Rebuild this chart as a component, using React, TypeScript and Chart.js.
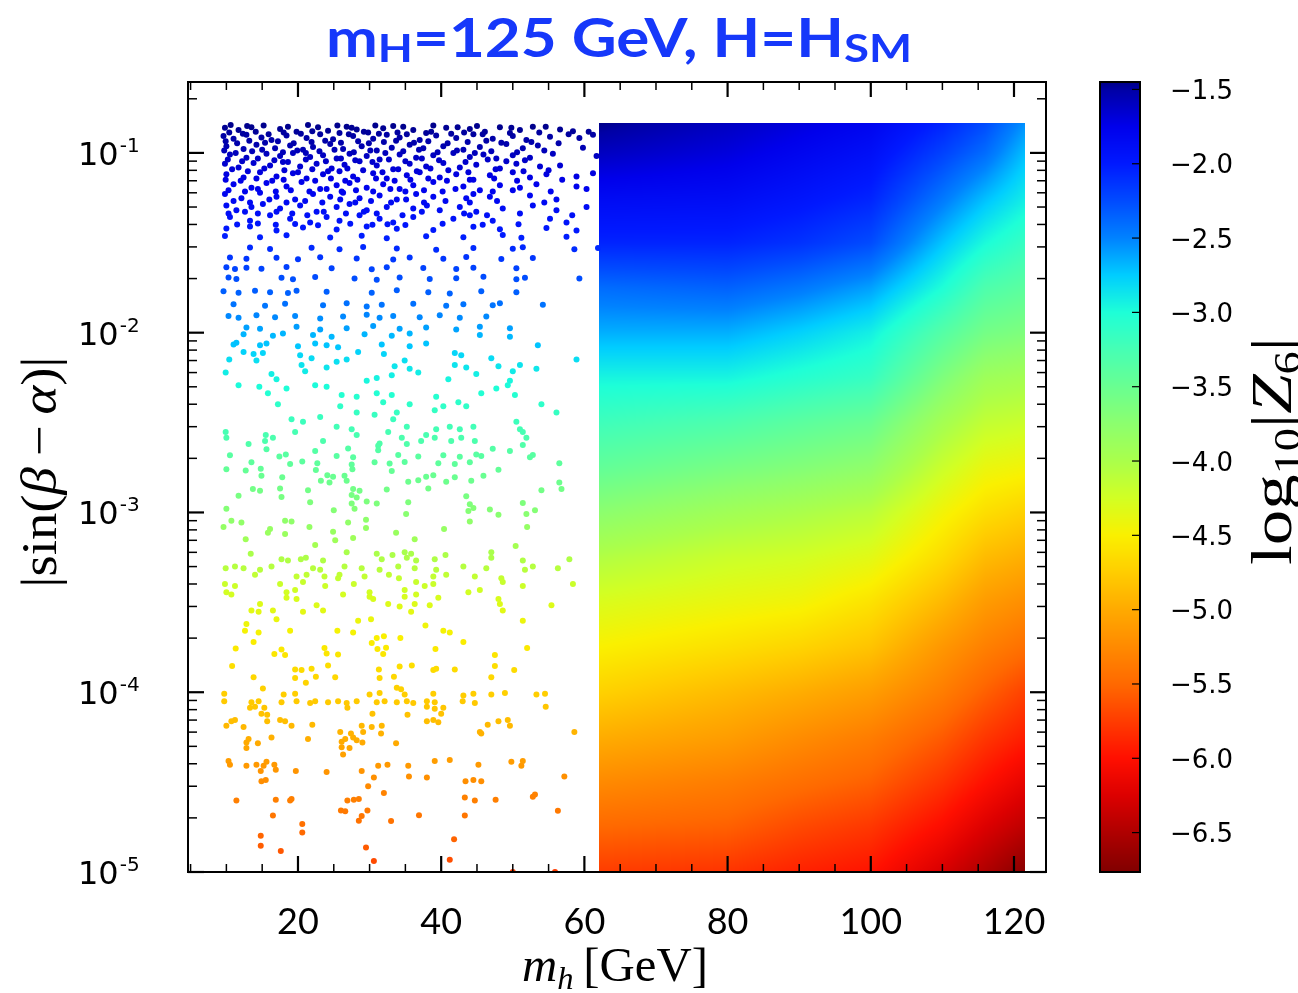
import { useEffect, useRef } from "react";
import { Chart, registerables } from "chart.js";

Chart.register(...registerables);

// ---------- axes ----------
const X_RANGE = [4.64, 124.47];
const Y_RANGE = [1e-5, 0.248];
const Z_RANGE = [-6.765, -1.45];

const X_MAJOR_TICKS = [20, 40, 60, 80, 100, 120];
const X_MINOR_TICKS = [5, 10, 15, 25, 30, 35, 45, 50, 55, 65, 70, 75, 85, 90, 95, 105, 110, 115];
const Y_DECADES = [1e-1, 1e-2, 1e-3, 1e-4, 1e-5];
const Y_DECADE_EXPONENTS = ["-1", "-2", "-3", "-4", "-5"];
const Z_TICKS = [-1.5, -2.0, -2.5, -3.0, -3.5, -4.0, -4.5, -5.0, -5.5, -6.0, -6.5];
const Z_TICK_LABELS = ["\u22121.5", "\u22122.0", "\u22122.5", "\u22123.0", "\u22123.5", "\u22124.0", "\u22124.5", "\u22125.0", "\u22125.5", "\u22126.0", "\u22126.5"];

// ---------- dense scan region (mh > 62 GeV): log10|Z6| read on a grid ----------
const FIELD_MH = [62.1, 80, 90, 100, 110, 116, 121.5];
const FIELD_SIN = [0.146, 0.1, 0.0562, 0.0316, 0.0178, 0.01, 0.00562, 0.00316, 0.00178, 0.001, 5.62e-4, 3.16e-4, 1.78e-4, 1e-4, 5.62e-5, 3.16e-5, 1.78e-5, 1e-5];
const FIELD_LOGZ6_MH62 = [-1.45, -1.6, -1.85, -2.05, -2.4, -2.65, -2.95, -3.2, -3.45, -3.75, -4.05, -4.3, -4.5, -4.72, -4.98, -5.25, -5.5, -5.75];
const FIELD_LOGZ6_MH80 = [-1.6, -1.7, -1.87, -2.05, -2.35, -2.65, -2.95, -3.3, -3.6, -3.92, -4.2, -4.4, -4.62, -4.88, -5.1, -5.35, -5.55, -5.8];
const FIELD_LOGZ6_MH90 = [-1.7, -1.8, -1.95, -2.12, -2.45, -2.77, -3.05, -3.4, -3.68, -4.0, -4.25, -4.45, -4.7, -4.98, -5.23, -5.45, -5.68, -5.9];
const FIELD_LOGZ6_MH100 = [-1.8, -1.9, -2.05, -2.25, -2.6, -2.92, -3.15, -3.5, -3.78, -4.1, -4.35, -4.6, -4.82, -5.1, -5.35, -5.55, -5.78, -5.98];
const FIELD_LOGZ6_MH110 = [-2.05, -2.2, -2.45, -2.72, -3.0, -3.35, -3.65, -3.95, -4.2, -4.45, -4.65, -4.9, -5.15, -5.35, -5.58, -5.8, -6.03, -6.28];
const FIELD_LOGZ6_MH116 = [-2.25, -2.4, -2.7, -2.98, -3.3, -3.58, -3.9, -4.15, -4.4, -4.63, -4.88, -5.12, -5.33, -5.55, -5.78, -6.0, -6.25, -6.5];
const FIELD_LOGZ6_MH121 = [-2.55, -2.7, -2.9, -3.15, -3.4, -3.65, -3.95, -4.2, -4.45, -4.72, -4.97, -5.22, -5.45, -5.72, -5.92, -6.17, -6.42, -6.72];
const FIELD_LOGZ6 = [FIELD_LOGZ6_MH62, FIELD_LOGZ6_MH80, FIELD_LOGZ6_MH90, FIELD_LOGZ6_MH100, FIELD_LOGZ6_MH110, FIELD_LOGZ6_MH116, FIELD_LOGZ6_MH121];

// ---------- scattered points (mh < 62 GeV): [mh, |sin(b-a)|, log10|Z6|] ----------
const POINTS_TOP_BAND = [
  [9.8,.138,-1.47],[11.7,.134,-1.47],[13.5,.139,-1.46],[17.5,.136,-1.47],[19.8,.131,-1.48],[22.8,.139,-1.46],[24.2,.133,-1.47],[26.8,.14,-1.46],[28.2,.135,-1.47],[29.8,.13,-1.48],[31.9,.137,-1.47],[33.3,.141,-1.46],[36.1,.134,-1.47],[37.9,.129,-1.48],[40.7,.138,-1.47],[44.0,.136,-1.47],[46.1,.131,-1.48],[48.2,.139,-1.46],[51.0,.134,-1.47],[52.8,.14,-1.46],[56.6,.135,-1.47],[58.4,.132,-1.48],
  [9.6,.124,-1.5],[11.0,.12,-1.51],[12.8,.126,-1.5],[14.9,.122,-1.5],[16.3,.118,-1.52],[18.4,.125,-1.5],[21.2,.121,-1.51],[23.1,.127,-1.49],[24.9,.119,-1.51],[27.7,.124,-1.5],[30.5,.12,-1.51],[32.4,.126,-1.5],[34.2,.122,-1.5],[37.0,.118,-1.52],[39.3,.125,-1.5],[42.1,.121,-1.51],[44.5,.127,-1.49],[47.2,.12,-1.51],[50.0,.124,-1.5],[51.9,.118,-1.52],[55.2,.123,-1.5],[59.3,.121,-1.51],[61.2,.126,-1.5],
  [10.0,.109,-1.54],[12.4,.105,-1.55],[14.2,.111,-1.53],[16.8,.106,-1.55],[18.9,.11,-1.54],[20.7,.104,-1.56],[22.1,.108,-1.54],[24.5,.112,-1.53],[26.3,.105,-1.55],[28.9,.109,-1.54],[31.0,.103,-1.56],[33.1,.107,-1.55],[35.6,.111,-1.53],[37.5,.106,-1.55],[40.3,.109,-1.54],[43.1,.104,-1.56],[45.4,.108,-1.54],[49.1,.112,-1.53],[51.4,.106,-1.55],[53.5,.11,-1.54],[59.8,.107,-1.55],
  [10.5,.098,-1.6],[12.8,.094,-1.61],[15.6,.099,-1.59],[17.5,.096,-1.6],[19.3,.1,-1.59],[21.7,.095,-1.61],[23.5,.097,-1.6],[25.4,.093,-1.62],[27.2,.099,-1.6],[29.6,.096,-1.6],[31.4,.092,-1.62],[34.2,.098,-1.6],[36.5,.094,-1.61],[38.9,.097,-1.6],[41.7,.1,-1.59],[44.0,.095,-1.61],[45.9,.098,-1.6],[47.7,.093,-1.62],[50.0,.097,-1.6],[52.4,.094,-1.61],[55.6,.099,-1.6],[61.7,.096,-1.6],
  [9.8,.087,-1.65],[11.7,.083,-1.67],[13.8,.088,-1.65],[16.1,.085,-1.66],[17.9,.089,-1.64],[20.3,.084,-1.66],[22.6,.087,-1.65],[24.7,.082,-1.67],[26.5,.086,-1.66],[28.6,.09,-1.64],[31.0,.085,-1.66],[33.3,.081,-1.68],[35.6,.087,-1.65],[37.9,.084,-1.66],[40.3,.088,-1.65],[42.6,.083,-1.67],[44.9,.086,-1.66],[48.2,.082,-1.67],[50.5,.087,-1.65],[53.8,.084,-1.66],[56.6,.085,-1.66],
  [10.0,.076,-1.71],[12.4,.073,-1.72],[14.7,.078,-1.7],[17.0,.074,-1.72],[19.3,.077,-1.71],[21.2,.072,-1.73],[23.5,.076,-1.71],[25.8,.079,-1.7],[27.7,.074,-1.72],[30.5,.077,-1.71],[32.4,.072,-1.73],[35.2,.075,-1.72],[37.0,.078,-1.7],[39.8,.073,-1.72],[42.1,.076,-1.71],[44.5,.071,-1.73],[46.8,.075,-1.72],[50.0,.078,-1.7],[52.4,.073,-1.72],[54.7,.076,-1.71],[58.9,.074,-1.72],[61.2,.077,-1.71],
  [11.0,.067,-1.76],[13.5,.064,-1.78],[15.6,.068,-1.76],[18.4,.065,-1.77],[20.5,.069,-1.75],[23.1,.063,-1.78],[25.4,.066,-1.77],[27.2,.068,-1.76],[29.6,.064,-1.78],[31.9,.067,-1.76],[34.2,.063,-1.78],[36.1,.066,-1.77],[38.9,.069,-1.75],[43.1,.065,-1.77],[45.4,.062,-1.79],[48.2,.066,-1.77],[51.0,.064,-1.78],[53.3,.067,-1.76],[58.9,.065,-1.77],[60.3,.063,-1.78],
  [9.8,.059,-1.8],[12.1,.056,-1.82],[14.7,.06,-1.8],[17.0,.057,-1.81],[19.6,.055,-1.83],[22.1,.059,-1.8],[24.5,.057,-1.81],[26.3,.06,-1.8],[28.6,.056,-1.82],[31.4,.058,-1.81],[33.8,.055,-1.83],[36.5,.059,-1.8],[38.9,.057,-1.81],[43.5,.056,-1.82],[44.5,.059,-1.8],[46.8,.057,-1.81],[52.4,.058,-1.81],[56.1,.055,-1.83],
  [10.0,.051,-1.86],[11.4,.048,-1.88],[13.5,.05,-1.87],[15.1,.052,-1.85],[17.5,.049,-1.87],[20.3,.051,-1.86],[22.6,.047,-1.89],[25.4,.05,-1.87],[27.2,.052,-1.85],[29.6,.048,-1.88],[32.4,.05,-1.87],[36.1,.049,-1.87],[38.0,.051,-1.86],[39.8,.048,-1.88],[42.6,.05,-1.87],[44.9,.047,-1.89],[48.6,.049,-1.87],[52.8,.051,-1.86],[56.1,.048,-1.88],[60.3,.05,-1.87],
  [10.5,.044,-1.92],[13.3,.042,-1.93],[16.1,.045,-1.91],[18.9,.043,-1.92],[21.7,.041,-1.94],[24.0,.044,-1.92],[25.8,.042,-1.93],[28.6,.045,-1.91],[31.4,.043,-1.92],[33.3,.041,-1.94],[36.1,.044,-1.92],[41.7,.043,-1.92],[44.0,.045,-1.91],[47.2,.042,-1.93],[55.2,.043,-1.92],[57.5,.041,-1.94],
];

const POINTS_TOP_BAND_FILL = [
  [10.6,.143,-1.46],[12.9,.141,-1.46],[15.2,.142,-1.46],[18.6,.14,-1.46],[21.4,.143,-1.46],[25.5,.142,-1.46],[27.5,.138,-1.47],[30.8,.142,-1.46],[34.7,.14,-1.46],[38.9,.142,-1.46],[42.3,.139,-1.47],[45.0,.141,-1.46],[49.8,.138,-1.47],[54.6,.14,-1.46],
  [10.4,.13,-1.49],[12.3,.128,-1.49],[14.1,.131,-1.48],[15.9,.127,-1.49],[18.0,.13,-1.49],[20.4,.128,-1.49],[22.0,.132,-1.48],[25.8,.129,-1.49],[27.1,.127,-1.49],[29.2,.131,-1.48],[31.3,.128,-1.49],[33.9,.13,-1.49],[35.2,.127,-1.49],[38.6,.131,-1.48],[41.4,.128,-1.49],[43.2,.13,-1.49],[45.8,.127,-1.49],[49.6,.129,-1.49],[53.7,.13,-1.49],[57.8,.127,-1.49],[60.6,.131,-1.48],
  [9.9,.116,-1.52],[11.5,.113,-1.52],[13.2,.117,-1.51],[15.4,.114,-1.52],[17.2,.116,-1.52],[19.4,.113,-1.52],[21.9,.115,-1.52],[23.8,.117,-1.51],[26.0,.114,-1.52],[28.4,.116,-1.52],[29.9,.113,-1.52],[32.0,.115,-1.52],[33.7,.117,-1.51],[36.2,.114,-1.52],[38.2,.116,-1.52],[40.9,.113,-1.52],[43.7,.115,-1.52],[46.3,.117,-1.51],[48.4,.114,-1.52],[52.6,.115,-1.52],[56.4,.113,-1.52],
  [9.7,.103,-1.57],[11.3,.1,-1.58],[13.6,.102,-1.57],[15.0,.104,-1.56],[17.9,.101,-1.57],[19.9,.103,-1.57],[21.1,.1,-1.58],[23.0,.102,-1.57],[25.1,.104,-1.56],[27.8,.101,-1.57],[30.1,.103,-1.57],[32.2,.1,-1.58],[34.7,.102,-1.57],[36.9,.104,-1.56],[39.5,.101,-1.57],[42.2,.103,-1.57],[44.7,.1,-1.58],[47.0,.102,-1.57],[50.6,.101,-1.57],[54.4,.103,-1.57],
  [10.2,.092,-1.63],[12.2,.09,-1.63],[14.4,.093,-1.62],[16.7,.091,-1.63],[18.6,.089,-1.64],[21.1,.092,-1.63],[23.9,.09,-1.63],[26.0,.093,-1.62],[28.0,.091,-1.63],[30.4,.089,-1.64],[32.7,.092,-1.63],[35.0,.09,-1.63],[37.3,.093,-1.62],[39.7,.091,-1.63],[43.4,.089,-1.64],[46.5,.092,-1.63],[49.1,.09,-1.63],[51.7,.091,-1.63],
  [10.8,.081,-1.68],[13.0,.079,-1.69],[15.3,.082,-1.68],[18.1,.08,-1.68],[20.0,.078,-1.69],[22.0,.081,-1.68],[24.2,.079,-1.69],[26.9,.082,-1.68],[29.1,.08,-1.68],[31.8,.078,-1.69],[34.0,.081,-1.68],[36.6,.079,-1.69],[38.5,.082,-1.68],[41.0,.08,-1.68],[43.8,.078,-1.69],[47.6,.081,-1.68],[51.5,.079,-1.69],[55.0,.08,-1.68],
  [9.9,.071,-1.73],[12.0,.07,-1.74],[14.2,.072,-1.73],[16.4,.07,-1.74],[18.0,.071,-1.73],[22.4,.07,-1.74],[24.6,.072,-1.73],[26.6,.07,-1.74],[28.3,.071,-1.73],[30.9,.072,-1.73],[33.5,.07,-1.74],[35.7,.071,-1.73],[38.2,.072,-1.73],[40.8,.07,-1.74],[44.0,.071,-1.73],[47.4,.072,-1.73],[50.6,.07,-1.74],[56.9,.071,-1.73],
  [10.3,.062,-1.78],[12.6,.061,-1.79],[14.4,.063,-1.78],[16.9,.061,-1.79],[19.0,.062,-1.78],[21.6,.061,-1.79],[24.0,.063,-1.78],[26.1,.061,-1.79],[28.1,.062,-1.78],[30.5,.061,-1.79],[32.9,.063,-1.78],[35.0,.061,-1.79],[37.6,.062,-1.78],[40.2,.061,-1.79],[42.0,.063,-1.78],[47.2,.061,-1.79],[50.0,.062,-1.78],[55.3,.061,-1.79],
  [11.0,.054,-1.83],[13.3,.053,-1.84],[16.0,.055,-1.83],[18.4,.053,-1.84],[21.0,.054,-1.83],[23.4,.053,-1.84],[25.9,.055,-1.83],[28.0,.053,-1.84],[30.2,.054,-1.83],[33.0,.053,-1.84],[35.1,.055,-1.83],[37.6,.053,-1.84],[40.6,.054,-1.83],[44.0,.053,-1.84],[47.8,.054,-1.83],[54.4,.053,-1.84],
  [10.3,.046,-1.89],[12.6,.047,-1.89],[14.4,.046,-1.89],[17.0,.047,-1.89],[19.2,.046,-1.89],[21.3,.045,-1.9],[23.6,.047,-1.89],[26.7,.046,-1.89],[29.2,.047,-1.89],[31.0,.046,-1.89],[34.6,.045,-1.9],[37.3,.047,-1.89],[43.2,.046,-1.89],[46.4,.045,-1.9],[51.0,.046,-1.89],[58.3,.045,-1.9],
  [11.5,.04,-1.95],[14.4,.0405,-1.95],[16.9,.0398,-1.95],[19.6,.0402,-1.95],[22.8,.0396,-1.96],[27.3,.0404,-1.95],[30.4,.0399,-1.95],[32.5,.0401,-1.95],[35.0,.0397,-1.96],[40.2,.0403,-1.95],[45.8,.0399,-1.95],[50.8,.0401,-1.95],
];

const POINTS_MID_BAND = [
  [10.0,.038,-1.98],[13.3,.039,-1.97],[17.0,.037,-1.99],[20.7,.0385,-1.98],[25.4,.0375,-1.99],[29.6,.039,-1.97],[33.8,.0378,-1.98],[38.9,.0372,-1.99],[44.5,.0388,-1.97],[48.2,.0376,-1.98],[54.7,.0382,-1.98],[58.9,.037,-1.99],
  [9.8,.0345,-2.02],[14.7,.034,-2.02],[18.4,.0348,-2.01],[24.5,.0338,-2.03],[28.9,.0346,-2.02],[32.4,.0335,-2.03],[37.9,.0344,-2.02],[43.1,.034,-2.02],[48.6,.0349,-2.01],[51.2,.0337,-2.03],[57.5,.0342,-2.02],
  [13.3,.0298,-2.08],[16.1,.0292,-2.09],[21.9,.0297,-2.08],[25.8,.0291,-2.09],[29.1,.03,-2.07],[33.8,.0294,-2.08],[39.3,.0289,-2.09],[44.5,.0296,-2.08],[50.0,.0293,-2.08],[51.4,.0299,-2.07],[58.6,.0291,-2.09],[61.9,.0296,-2.08],
  [10.5,.0262,-2.14],[12.8,.0258,-2.14],[17.0,.0261,-2.14],[20.0,.0256,-2.15],[23.1,.0263,-2.13],[28.2,.0259,-2.14],[33.3,.0255,-2.15],[35.6,.0262,-2.14],[40.3,.0258,-2.14],[43.5,.0264,-2.13],[48.4,.0257,-2.15],[52.8,.026,-2.14],
  [10.0,.0231,-2.2],[11.2,.0226,-2.21],[12.8,.023,-2.2],[14.9,.0227,-2.21],[18.4,.0232,-2.19],[24.7,.0228,-2.2],[30.3,.0225,-2.21],[32.4,.0231,-2.2],[37.5,.0229,-2.2],[42.1,.0226,-2.21],[44.5,.023,-2.2],[50.5,.0228,-2.2],
  [10.3,.0203,-2.26],[11.4,.0199,-2.27],[17.7,.0202,-2.26],[19.3,.0198,-2.27],[22.4,.0204,-2.25],[27.9,.02,-2.26],[31.0,.0197,-2.27],[34.2,.0203,-2.26],[38.4,.0199,-2.27],[42.1,.0201,-2.26],[45.9,.0205,-2.25],[50.5,.0198,-2.27],[51.7,.0202,-2.26],[59.3,.02,-2.26],
  [9.6,.017,-2.34],[11.7,.0167,-2.35],[14.0,.0171,-2.33],[16.1,.0168,-2.34],[18.6,.0166,-2.35],[19.8,.0171,-2.33],[24.0,.0169,-2.34],[30.3,.0167,-2.35],[33.8,.0172,-2.33],[38.2,.0168,-2.34],[41.2,.0165,-2.35],[45.6,.017,-2.34],[50.5,.0168,-2.34],
  [11.0,.0144,-2.43],[15.4,.0141,-2.44],[18.2,.0145,-2.42],[23.5,.0142,-2.43],[26.8,.0146,-2.42],[29.6,.014,-2.44],[31.7,.0143,-2.43],[36.1,.0145,-2.42],[40.7,.0141,-2.44],[43.1,.0144,-2.43],[47.2,.0142,-2.43],[48.2,.0146,-2.42],[54.2,.0143,-2.43],
  [10.3,.0124,-2.52],[11.7,.0121,-2.53],[14.2,.0125,-2.51],[16.8,.0122,-2.52],[19.6,.0124,-2.52],[23.1,.012,-2.54],[26.3,.0123,-2.52],[29.6,.0126,-2.51],[31.4,.0121,-2.53],[33.3,.0124,-2.52],[37.0,.0122,-2.52],[39.8,.0125,-2.51],[42.6,.0121,-2.53],[46.3,.0123,-2.52],
  [12.8,.0107,-2.6],[14.7,.0105,-2.61],[19.8,.0108,-2.59],[23.1,.0104,-2.61],[26.8,.0106,-2.6],[30.5,.0109,-2.59],[34.2,.0105,-2.61],[37.9,.0107,-2.6],[42.1,.0104,-2.61],[45.4,.0108,-2.59],[49.6,.0106,-2.6],
  [12.4,.0098,-2.67],[16.5,.0096,-2.68],[17.9,.0099,-2.67],[22.1,.0097,-2.67],[24.7,.0095,-2.68],[29.3,.0098,-2.67],[33.1,.0096,-2.68],[35.6,.0099,-2.67],[45.4,.0097,-2.67],[49.6,.0095,-2.68],
  [11.0,.0086,-2.72],[11.4,.0088,-2.71],[14.7,.0085,-2.72],[15.6,.0087,-2.72],[20.0,.0084,-2.73],[22.4,.0087,-2.72],[24.0,.0085,-2.72],[25.6,.0083,-2.73],[31.7,.0086,-2.72],[35.6,.0084,-2.73],[37.9,.0087,-2.72],[53.5,.0085,-2.72],
  [12.4,.0078,-2.78],[13.8,.0076,-2.79],[15.1,.0077,-2.79],[20.3,.0075,-2.8],[28.4,.0078,-2.78],[32.0,.0076,-2.79],[41.9,.0077,-2.79],[42.8,.0075,-2.8],
  [10.4,.0071,-2.83],[14.2,.007,-2.84],[21.9,.0072,-2.82],[25.4,.0069,-2.84],[26.8,.0071,-2.83],[34.9,.007,-2.84],[47.0,.0072,-2.82],[58.9,.0071,-2.83],
  [20.5,.0066,-2.86],[24.0,.0064,-2.87],[33.5,.0065,-2.87],[35.6,.0063,-2.88],[41.9,.0066,-2.86],[43.5,.0064,-2.87],[48.0,.0065,-2.87],[53.3,.0063,-2.88],[51.0,.0066,-2.86],
  [9.9,.006,-2.91],[16.3,.0059,-2.92],[21.0,.0061,-2.9],[33.1,.0058,-2.92],[36.8,.006,-2.91],[44.9,.0059,-2.92],[50.0,.0061,-2.9],
  [17.0,.0055,-2.95],[29.6,.0054,-2.96],[31.0,.0056,-2.94],[41.0,.0055,-2.95],[49.6,.0054,-2.96],
  [11.7,.0051,-2.98],[14.6,.005,-2.99],[18.4,.0049,-3.0],[22.4,.0051,-2.98],[24.0,.005,-2.99],[47.7,.0049,-3.0],[49.3,.0051,-2.98],
  [15.8,.0046,-3.03],[26.1,.0045,-3.04],[28.2,.0044,-3.05],[31.0,.0046,-3.03],[33.1,.0045,-3.04],[39.3,.0044,-3.05],[45.6,.0046,-3.03],[50.3,.0045,-3.04],
  [17.2,.004,-3.1],[25.9,.0039,-3.11],[31.9,.0041,-3.09],[35.6,.004,-3.1],[40.3,.0039,-3.11],[42.4,.0041,-3.09],[43.5,.0039,-3.11],[54.0,.004,-3.1],
  [28.2,.0036,-3.15],[30.7,.0035,-3.16],[33.8,.0036,-3.15],[39.1,.0037,-3.14],[56.1,.0036,-3.15],
  [19.1,.0033,-3.18],[20.7,.0032,-3.19],[23.1,.0034,-3.17],[33.3,.0033,-3.18],[50.5,.0032,-3.19],
  [25.4,.003,-3.23],[27.5,.0029,-3.24],[35.2,.003,-3.23],[39.3,.0029,-3.24],[41.2,.003,-3.23],[42.6,.0029,-3.24],[44.5,.003,-3.23],[51.0,.0029,-3.24],
  [9.9,.0028,-3.26],[15.5,.0027,-3.27],[19.6,.0028,-3.26],[28.2,.0027,-3.27],[32.6,.0028,-3.26],[37.9,.0027,-3.27],[51.4,.0028,-3.26],
  [10.0,.0026,-3.29],[15.4,.0025,-3.3],[16.5,.0026,-3.29],[23.5,.0025,-3.3],[34.5,.0026,-3.29],[37.2,.0025,-3.3],[39.1,.0026,-3.29],[41.4,.0025,-3.3],[42.8,.0026,-3.29],[44.7,.0025,-3.3],[51.9,.0026,-3.29],
  [13.1,.0024,-3.32],[31.2,.00235,-3.33],[31.4,.00242,-3.32],[35.2,.0024,-3.32],[51.4,.00237,-3.33],
  [15.6,.00225,-3.35],[22.4,.0022,-3.36],[27.0,.00227,-3.35],[31.2,.00222,-3.35],[47.2,.00226,-3.35],[49.6,.0022,-3.36],
  [10.5,.00208,-3.38],[17.4,.00205,-3.39],[18.3,.0021,-3.38],[25.4,.00206,-3.38],[27.7,.00203,-3.39],[34.0,.00209,-3.38],[36.8,.00205,-3.39],[40.3,.00208,-3.38],[42.6,.00204,-3.39],[44.9,.0021,-3.38],[45.6,.00206,-3.38],[52.4,.00203,-3.39],[52.8,.00209,-3.38],
  [13.5,.0019,-3.42],[18.9,.00186,-3.43],[20.6,.00192,-3.41],[22.7,.00188,-3.42],[27.5,.00185,-3.43],[30.7,.0019,-3.42],[32.8,.00187,-3.42],[34.9,.00191,-3.41],[39.6,.00188,-3.42],[41.9,.00186,-3.43],[44.0,.0019,-3.42],[56.5,.00188,-3.42],
  [10.0,.00174,-3.46],[12.7,.00171,-3.47],[14.8,.00175,-3.46],[22.5,.00172,-3.46],[27.6,.00174,-3.46],[33.1,.0017,-3.47],[48.0,.00173,-3.46],
  [14.9,.0016,-3.5],[17.8,.00157,-3.51],[24.1,.00161,-3.5],[24.9,.00158,-3.5],[26.5,.0016,-3.5],[37.9,.00158,-3.5],[38.9,.00161,-3.5],[41.9,.00157,-3.51],[45.9,.0016,-3.5],
  [23.2,.0015,-3.52],[24.4,.00147,-3.53],[26.8,.0015,-3.52],[35.4,.00148,-3.53],[36.8,.00151,-3.52],[40.7,.00148,-3.53],[44.2,.0015,-3.52],[56.5,.00147,-3.53],
  [13.7,.00135,-3.57],[14.7,.00132,-3.58],[17.5,.00136,-3.57],[21.4,.00133,-3.57],[27.7,.00135,-3.57],[28.6,.00132,-3.58],[32.4,.00134,-3.57],[38.2,.00136,-3.57],[54.0,.00133,-3.57],[56.8,.00135,-3.57],
  [11.7,.00124,-3.61],[17.7,.00122,-3.61],[27.5,.00125,-3.6],[28.2,.00121,-3.62],[43.5,.00123,-3.61],
  [21.7,.00114,-3.65],[27.5,.00112,-3.65],[29.6,.00115,-3.64],[31.0,.00112,-3.65],[35.4,.00114,-3.65],[44.0,.00111,-3.66],[51.4,.00113,-3.65],
  [10.0,.00105,-3.69],[25.0,.00103,-3.7],[27.9,.00105,-3.69],[43.8,.00102,-3.7],[44.5,.00106,-3.69],[46.8,.00104,-3.69],[53.1,.00103,-3.7],
];

const POINTS_LOW_BAND = [
  [35.1,9.8e-4,-3.73],[48.0,9.7e-4,-3.73],[51.9,9.8e-4,-3.73],
  [10.7,9.0e-4,-3.78],[12.1,8.8e-4,-3.79],[18.2,9.0e-4,-3.78],[19.1,8.9e-4,-3.78],[27.0,8.8e-4,-3.79],[29.5,9.1e-4,-3.77],[44.0,8.9e-4,-3.78],
  [9.6,8.3e-4,-3.82],[16.1,8.1e-4,-3.83],[21.6,8.3e-4,-3.82],[29.5,8.2e-4,-3.82],[40.4,8.1e-4,-3.83],[52.0,8.3e-4,-3.82],
  [15.8,7.7e-4,-3.86],[18.2,7.6e-4,-3.86],[24.9,7.8e-4,-3.85],[33.7,7.7e-4,-3.86],
  [12.7,7.1e-4,-3.91],[25.2,7.0e-4,-3.91],[27.7,7.2e-4,-3.9],[36.3,7.1e-4,-3.91],
  [22.4,6.6e-4,-3.95],[50.4,6.5e-4,-3.95],
  [13.4,5.9e-4,-4.0],[26.8,6.0e-4,-3.99],[31.0,5.9e-4,-4.0],[33.2,5.8e-4,-4.01],[34.9,6.0e-4,-3.99],[35.8,5.9e-4,-4.0],[40.6,5.8e-4,-4.01],[47.0,6.0e-4,-3.99],
  [17.7,5.5e-4,-4.03],[18.6,5.4e-4,-4.04],[20.4,5.5e-4,-4.03],[21.1,5.6e-4,-4.02],[23.5,5.4e-4,-4.04],[31.7,5.5e-4,-4.03],[35.2,5.6e-4,-4.02],[36.5,5.4e-4,-4.04],[39.1,5.5e-4,-4.03],[47.0,5.6e-4,-4.02],[51.4,5.4e-4,-4.04],[57.9,5.5e-4,-4.03],
  [9.9,4.9e-4,-4.08],[11.2,5.0e-4,-4.07],[12.4,4.9e-4,-4.08],[14.7,4.8e-4,-4.09],[16.3,5.0e-4,-4.07],[22.1,4.9e-4,-4.08],[23.1,4.8e-4,-4.09],[26.5,5.0e-4,-4.07],[28.9,4.9e-4,-4.08],[31.4,4.8e-4,-4.09],[34.0,5.0e-4,-4.07],[36.3,4.9e-4,-4.08],[39.3,4.8e-4,-4.09],[43.1,5.0e-4,-4.07],[46.3,4.9e-4,-4.08],[51.7,4.8e-4,-4.09],[52.8,5.0e-4,-4.07],[56.3,4.9e-4,-4.08],
  [14.0,4.5e-4,-4.14],[19.8,4.4e-4,-4.15],[21.2,4.5e-4,-4.14],[23.7,4.4e-4,-4.15],[25.6,4.3e-4,-4.16],[25.8,4.5e-4,-4.14],[29.3,4.4e-4,-4.15],[32.7,4.5e-4,-4.14],[34.1,4.3e-4,-4.16],[38.9,4.4e-4,-4.15],[40.7,4.5e-4,-4.14],[44.7,4.4e-4,-4.15],[48.4,4.3e-4,-4.16],
  [9.8,4.0e-4,-4.2],[11.2,3.9e-4,-4.21],[17.5,4.0e-4,-4.2],[20.7,4.1e-4,-4.19],[23.8,3.9e-4,-4.21],[27.8,4.0e-4,-4.2],[36.5,4.1e-4,-4.19],[37.7,3.9e-4,-4.21],[38.9,4.0e-4,-4.2],[48.6,4.1e-4,-4.19],[51.4,3.9e-4,-4.21],[58.4,4.0e-4,-4.2],
  [10.0,3.6e-4,-4.25],[10.7,3.5e-4,-4.26],[18.4,3.6e-4,-4.25],[19.6,3.7e-4,-4.24],[26.3,3.5e-4,-4.26],[30.0,3.6e-4,-4.25],[34.9,3.7e-4,-4.24],[36.5,3.5e-4,-4.26],[43.8,3.6e-4,-4.25],[45.4,3.7e-4,-4.24],
  [18.4,3.35e-4,-4.28],[19.8,3.3e-4,-4.29],[30.0,3.4e-4,-4.28],[30.5,3.3e-4,-4.29],[34.9,3.4e-4,-4.28],[39.6,3.35e-4,-4.28],[48.0,3.3e-4,-4.29],
  [14.7,3.1e-4,-4.32],[22.6,3.05e-4,-4.32],[32.6,3.1e-4,-4.32],[34.2,3.0e-4,-4.33],[36.3,3.1e-4,-4.32],[38.4,3.05e-4,-4.32],[48.2,3.1e-4,-4.32],[55.4,3.05e-4,-4.32],
  [13.5,2.85e-4,-4.35],[14.5,2.8e-4,-4.36],[16.5,2.85e-4,-4.35],[20.7,2.8e-4,-4.36],[23.5,2.85e-4,-4.35],[35.8,2.8e-4,-4.36],[48.6,2.85e-4,-4.35],
  [17.0,2.55e-4,-4.4],[28.4,2.5e-4,-4.41],[30.2,2.55e-4,-4.4],[51.4,2.5e-4,-4.41],
  [12.8,2.4e-4,-4.42],[37.8,2.35e-4,-4.43],
  [12.6,2.2e-4,-4.47],[14.5,2.15e-4,-4.47],[18.9,2.2e-4,-4.47],[25.5,2.2e-4,-4.47],[27.7,2.15e-4,-4.47],[40.3,2.2e-4,-4.47],[41.2,2.15e-4,-4.47],
  [31.0,2.0e-4,-4.5],[32.0,2.05e-4,-4.5],[34.3,2.0e-4,-4.5],
  [13.8,1.9e-4,-4.52],[30.3,1.88e-4,-4.52],[43.1,1.9e-4,-4.52],
  [11.3,1.75e-4,-4.55],[17.7,1.73e-4,-4.55],[23.7,1.76e-4,-4.55],[31.1,1.74e-4,-4.55],[32.3,1.77e-4,-4.54],[39.2,1.74e-4,-4.55],[52.0,1.76e-4,-4.55],
  [16.7,1.63e-4,-4.57],[18.2,1.61e-4,-4.58],[24.0,1.64e-4,-4.57],[25.6,1.62e-4,-4.57],[31.9,1.63e-4,-4.57],[47.5,1.61e-4,-4.58],
  [10.8,1.4e-4,-4.63],[24.2,1.41e-4,-4.63],[34.2,1.39e-4,-4.63],[35.9,1.41e-4,-4.63],[47.5,1.4e-4,-4.63],
  [19.6,1.34e-4,-4.65],[20.5,1.33e-4,-4.65],[21.9,1.35e-4,-4.64],[31.3,1.34e-4,-4.65],[38.9,1.33e-4,-4.65],[39.3,1.35e-4,-4.64],[41.9,1.34e-4,-4.65],[50.2,1.33e-4,-4.65],
  [13.8,1.21e-4,-4.68],[19.6,1.2e-4,-4.68],[22.5,1.22e-4,-4.68],[25.2,1.21e-4,-4.68],[31.4,1.2e-4,-4.68],[33.4,1.22e-4,-4.68],[47.0,1.21e-4,-4.68],
  [21.1,1.13e-4,-4.7],[15.1,1.05e-4,-4.72],[33.8,1.06e-4,-4.72],[34.4,1.04e-4,-4.72],
  [9.7,9.8e-5,-4.74],[18.0,9.7e-5,-4.74],[19.6,9.8e-5,-4.74],[30.0,9.7e-5,-4.74],[31.4,9.9e-5,-4.73],[34.9,9.7e-5,-4.74],[38.9,9.8e-5,-4.74],[43.1,9.6e-5,-4.75],[44.5,9.8e-5,-4.74],[47.0,9.7e-5,-4.74],[48.9,9.9e-5,-4.73],[53.3,9.7e-5,-4.74],[54.5,9.8e-5,-4.74],
  [9.7,8.9e-5,-4.77],[13.5,8.8e-5,-4.77],[14.5,8.9e-5,-4.77],[17.7,8.8e-5,-4.77],[19.8,8.9e-5,-4.77],[21.7,8.7e-5,-4.78],[22.4,8.9e-5,-4.77],[24.2,8.8e-5,-4.77],[25.6,8.9e-5,-4.77],[26.8,8.7e-5,-4.78],[28.2,8.9e-5,-4.77],[31.0,8.8e-5,-4.77],[32.1,8.9e-5,-4.77],[33.8,8.8e-5,-4.77],[35.2,8.9e-5,-4.77],[36.1,8.7e-5,-4.78],[38.0,8.9e-5,-4.77],[39.1,8.8e-5,-4.77],[43.0,8.9e-5,-4.77],[44.7,8.7e-5,-4.78],
  [13.3,8.2e-5,-4.8],[14.0,8.3e-5,-4.8],[15.3,8.2e-5,-4.8],[26.9,8.2e-5,-4.8],[38.0,8.3e-5,-4.8],[39.1,8.1e-5,-4.8],[40.3,8.2e-5,-4.8],[54.6,8.3e-5,-4.8],
  [14.9,7.6e-5,-4.83],[15.7,7.5e-5,-4.83],[30.4,7.6e-5,-4.83],[35.3,7.5e-5,-4.83],[40.0,7.6e-5,-4.83],
  [10.7,6.9e-5,-4.86],[11.2,7.0e-5,-4.86],[15.7,6.9e-5,-4.86],[17.5,7.0e-5,-4.86],[18.2,6.9e-5,-4.86],[38.0,6.9e-5,-4.86],[38.9,7.0e-5,-4.86],[39.6,6.8e-5,-4.87],[48.0,6.9e-5,-4.86],[49.3,7.0e-5,-4.86],
  [10.0,6.5e-5,-4.9],[12.4,6.4e-5,-4.9],[19.1,6.5e-5,-4.9],[22.0,6.6e-5,-4.89],[28.9,6.5e-5,-4.9],[30.3,6.4e-5,-4.9],[31.7,6.5e-5,-4.9],[46.5,6.6e-5,-4.89],[49.6,6.5e-5,-4.9],
  [25.9,6.0e-5,-4.93],[27.4,5.9e-5,-4.94],[29.1,6.0e-5,-4.93],[31.6,5.9e-5,-4.94],[45.4,6.0e-5,-4.93],[45.6,5.9e-5,-4.94],[58.6,6.0e-5,-4.93],
  [13.1,5.5e-5,-4.97],[16.3,5.6e-5,-4.96],[21.4,5.5e-5,-4.97],[26.6,5.5e-5,-4.97],[27.7,5.6e-5,-4.96],[28.2,5.4e-5,-4.98],
  [12.8,5.25e-5,-5.0],[14.4,5.2e-5,-5.0],[26.1,5.3e-5,-4.99],[29.0,5.25e-5,-5.0],[33.7,5.2e-5,-5.0],
  [12.8,4.9e-5,-5.03],[26.1,4.95e-5,-5.03],[27.2,4.9e-5,-5.03],[26.3,4.5e-5,-5.07],
  [10.3,4.15e-5,-5.1],[15.6,4.1e-5,-5.11],[39.1,4.15e-5,-5.1],[41.2,4.2e-5,-5.1],[49.8,4.1e-5,-5.11],[51.4,4.15e-5,-5.1],
  [10.5,3.95e-5,-5.13],[12.8,3.9e-5,-5.13],[14.2,3.95e-5,-5.13],[15.2,3.9e-5,-5.13],[16.7,3.95e-5,-5.13],[31.2,3.9e-5,-5.13],[32.5,3.95e-5,-5.13],[35.4,3.9e-5,-5.13],[45.2,3.95e-5,-5.13],[51.2,3.9e-5,-5.13],
  [14.8,3.65e-5,-5.17],[16.9,3.7e-5,-5.16],[19.7,3.65e-5,-5.17],[24.0,3.6e-5,-5.17],[28.9,3.65e-5,-5.17],
  [30.6,3.35e-5,-5.2],[35.5,3.4e-5,-5.2],[38.0,3.35e-5,-5.2],[57.2,3.4e-5,-5.2],
  [14.9,3.2e-5,-5.22],[15.5,3.25e-5,-5.22],[43.4,3.2e-5,-5.22],[44.5,3.25e-5,-5.22],[45.6,3.2e-5,-5.22],
  [29.8,3.0e-5,-5.25],[53.1,2.7e-5,-5.3],[32.0,2.75e-5,-5.3],[43.3,2.6e-5,-5.32],[52.8,2.62e-5,-5.32],
  [11.4,2.5e-5,-5.33],[16.9,2.52e-5,-5.33],[18.9,2.5e-5,-5.33],[19.1,2.55e-5,-5.33],[26.9,2.5e-5,-5.33],[27.8,2.52e-5,-5.33],[28.5,2.55e-5,-5.33],[44.7,2.5e-5,-5.33],[47.6,2.52e-5,-5.33],
  [26.0,2.2e-5,-5.38],[26.6,2.18e-5,-5.38],[29.7,2.2e-5,-5.38],[56.3,2.19e-5,-5.38],
  [16.5,2.06e-5,-5.4],[28.9,2.05e-5,-5.4],[36.9,2.07e-5,-5.4],[43.3,2.06e-5,-5.4],
  [28.5,1.93e-5,-5.43],[33.0,1.92e-5,-5.43],[20.6,1.85e-5,-5.45],[20.6,1.66e-5,-5.5],[14.8,1.59e-5,-5.52],[41.8,1.52e-5,-5.53],
  [14.8,1.4e-5,-5.57],[29.5,1.37e-5,-5.58],[17.6,1.31e-5,-5.6],[41.2,1.17e-5,-5.65],[30.6,1.15e-5,-5.67],[50.0,1.0e-5,-5.75],[55.9,1.0e-5,-5.75],
];

// ---------- colour map ----------
const CMAP_Z = [-6.77, -6.5, -6.25, -6.0, -5.75, -5.5, -5.25, -5.0, -4.75, -4.5, -4.25, -4.0, -3.75, -3.5, -3.25, -3.0, -2.75, -2.5, -2.25, -2.0, -1.75, -1.5, -1.45];
const CMAP_RGB = [
  [128, 0, 0], [175, 0, 0], [220, 0, 0], [255, 15, 0], [255, 60, 0], [255, 105, 0], [255, 138, 0], [255, 170, 0],
  [255, 205, 0], [250, 240, 0], [210, 255, 35], [170, 255, 75], [140, 255, 110], [105, 255, 145], [70, 255, 180],
  [30, 255, 215], [0, 205, 255], [0, 130, 255], [0, 75, 255], [0, 25, 255], [0, 0, 235], [0, 0, 165], [0, 0, 135],
];

function zColor(z: number): number[] {
  if (z <= CMAP_Z[0]) return CMAP_RGB[0];
  const n = CMAP_Z.length;
  if (z >= CMAP_Z[n - 1]) return CMAP_RGB[n - 1];
  let i = 0;
  while (i < n - 2 && z > CMAP_Z[i + 1]) i++;
  const t = (z - CMAP_Z[i]) / (CMAP_Z[i + 1] - CMAP_Z[i]);
  const a = CMAP_RGB[i], b = CMAP_RGB[i + 1];
  return [a[0] + (b[0] - a[0]) * t, a[1] + (b[1] - a[1]) * t, a[2] + (b[2] - a[2]) * t];
}
const css = (c: number[]) => `rgb(${Math.round(c[0])},${Math.round(c[1])},${Math.round(c[2])})`;

const SERIF = '"Liberation Serif", "DejaVu Serif", serif';
const SANS = 'Lato, "Noto Sans", sans-serif';
const DJV = '"DejaVu Sans", sans-serif';

type Run = { t: string; f: string; dy?: number };
function runsWidth(ctx: any, runs: Run[]) {
  let w = 0;
  for (const r of runs) { ctx.font = r.f; w += ctx.measureText(r.t).width; }
  return w;
}
function drawRuns(ctx: any, runs: Run[], x: number, y: number, targetW?: number) {
  const w = runsWidth(ctx, runs);
  const s = targetW ? targetW / w : 1;
  ctx.save();
  ctx.translate(x, y);
  ctx.scale(s, 1);
  ctx.textAlign = "left";
  ctx.textBaseline = "alphabetic";
  let cx = -w / 2;
  for (const r of runs) {
    ctx.font = r.f;
    ctx.fillText(r.t, cx, r.dy || 0);
    cx += ctx.measureText(r.t).width;
  }
  ctx.restore();
}
function line(ctx: any, x0: number, y0: number, x1: number, y1: number, w: number) {
  ctx.lineWidth = w;
  ctx.beginPath();
  ctx.moveTo(x0, y0);
  ctx.lineTo(x1, y1);
  ctx.stroke();
}

const fieldPlugin = {
  id: "densefield",
  beforeDatasetsDraw(chart: any) {
    const { ctx, chartArea: ca, scales } = chart;
    const xs = scales.x, ys = scales.y;
    const px0 = Math.round(xs.getPixelForValue(FIELD_MH[0]));
    const px1 = Math.round(xs.getPixelForValue(FIELD_MH[FIELD_MH.length - 1]));
    const py0 = Math.round(ys.getPixelForValue(FIELD_SIN[0]));
    const py1 = Math.min(Math.round(ca.bottom), Math.round(ys.getPixelForValue(FIELD_SIN[FIELD_SIN.length - 1])));
    const w = px1 - px0, h = py1 - py0;
    if (w <= 0 || h <= 0) return;
    const logRows = FIELD_SIN.map((v) => Math.log10(v));
    const img = ctx.createImageData(w, h);
    const colIdx: number[] = [], colT: number[] = [];
    for (let i = 0; i < w; i++) {
      const mh = xs.getValueForPixel(px0 + i + 0.5);
      let c = 0;
      while (c < FIELD_MH.length - 2 && mh > FIELD_MH[c + 1]) c++;
      colIdx.push(c);
      colT.push(Math.max(0, Math.min(1, (mh - FIELD_MH[c]) / (FIELD_MH[c + 1] - FIELD_MH[c]))));
    }
    for (let j = 0; j < h; j++) {
      const L = Math.log10(ys.getValueForPixel(py0 + j + 0.5));
      let r = 0;
      while (r < logRows.length - 2 && L < logRows[r + 1]) r++;
      const ty = Math.max(0, Math.min(1, (logRows[r] - L) / (logRows[r] - logRows[r + 1])));
      for (let i = 0; i < w; i++) {
        const c = colIdx[i], tx = colT[i];
        const a = FIELD_LOGZ6[c][r] * (1 - tx) + FIELD_LOGZ6[c + 1][r] * tx;
        const b = FIELD_LOGZ6[c][r + 1] * (1 - tx) + FIELD_LOGZ6[c + 1][r + 1] * tx;
        const col = zColor(a * (1 - ty) + b * ty);
        const k = (j * w + i) * 4;
        img.data[k] = col[0];
        img.data[k + 1] = col[1];
        img.data[k + 2] = col[2];
        img.data[k + 3] = 255;
      }
    }
    ctx.putImageData(img, px0, py0);
  },
};

const decorPlugin = {
  id: "decor",
  afterDraw(chart: any) {
    const { ctx, chartArea: ca, scales } = chart;
    const xs = scales.x, ys = scales.y, zs = scales.z;
    ctx.save();
    ctx.strokeStyle = "#000";
    ctx.fillStyle = "#000";
    ctx.lineCap = "butt";

    // frame
    ctx.lineWidth = 2;
    ctx.strokeRect(ca.left, ca.top, ca.right - ca.left, ca.bottom - ca.top);

    // x ticks
    for (const v of X_MAJOR_TICKS) {
      const px = xs.getPixelForValue(v);
      line(ctx, px, ca.bottom, px, ca.bottom - 16, 2.2);
      line(ctx, px, ca.top, px, ca.top + 15, 2.2);
    }
    for (const v of X_MINOR_TICKS) {
      const px = xs.getPixelForValue(v);
      line(ctx, px, ca.bottom, px, ca.bottom - 8, 1.5);
      line(ctx, px, ca.top, px, ca.top + 8, 1.5);
    }
    // y ticks
    for (const d of Y_DECADES) {
      const py = ys.getPixelForValue(d);
      line(ctx, ca.left, py, ca.left + 16, py, 2.2);
      line(ctx, ca.right, py, ca.right - 16, py, 2.2);
      for (let m = 2; m <= 9; m++) {
        const v = d * m;
        if (v > Y_RANGE[1]) continue;
        const pm = ys.getPixelForValue(v);
        line(ctx, ca.left, pm, ca.left + 9, pm, 1.5);
        line(ctx, ca.right, pm, ca.right - 9, pm, 1.5);
      }
    }

    // x tick labels
    ctx.font = `36px ${SANS}`;
    ctx.textAlign = "center";
    ctx.textBaseline = "alphabetic";
    for (const v of X_MAJOR_TICKS) {
      ctx.fillText(String(v), xs.getPixelForValue(v), 934);
    }
    // y tick labels 10^-k
    ctx.textAlign = "left";
    Y_DECADES.forEach((d, i) => {
      const py = ys.getPixelForValue(d);
      ctx.font = `32px ${DJV}`;
      ctx.fillText("10", 78, py + 12);
      const w = ctx.measureText("10").width;
      ctx.font = `20px ${DJV}`;
      ctx.fillText(Y_DECADE_EXPONENTS[i], 78 + w + 1, py - 1);
    });

    // axis titles
    drawRuns(ctx, [
      { t: "m", f: `italic 48px ${SERIF}` },
      { t: "h", f: `italic 32px ${SERIF}`, dy: 8 },
      { t: "\u2009[GeV]", f: `48px ${SERIF}` },
    ], 615, 981, 186);

    ctx.save();
    ctx.translate(56, 472);
    ctx.rotate(-Math.PI / 2);
    drawRuns(ctx, [
      { t: "|sin(", f: `50px ${SERIF}` },
      { t: "\u03b2", f: `italic 50px ${SERIF}` },
      { t: "\u2009\u2212\u2009", f: `50px ${SERIF}` },
      { t: "\u03b1", f: `italic 50px ${SERIF}` },
      { t: ")|", f: `50px ${SERIF}` },
    ], 0, 0, 231);
    ctx.restore();

    // colour bar
    const cbL = 1100, cbR = 1140;
    const zt = zs.getPixelForValue(Z_RANGE[1]);
    const zb = zs.getPixelForValue(Z_RANGE[0]);
    for (let py = Math.floor(zt); py < zb; py++) {
      ctx.fillStyle = css(zColor(zs.getValueForPixel(py + 0.5)));
      ctx.fillRect(cbL, py, cbR - cbL, 1);
    }
    ctx.fillStyle = "#000";
    ctx.lineWidth = 2;
    ctx.strokeRect(cbL, zt, cbR - cbL, zb - zt);
    ctx.font = `26px ${DJV}`;
    ctx.textAlign = "left";
    Z_TICKS.forEach((z, i) => {
      const py = zs.getPixelForValue(z);
      line(ctx, cbR, py, cbR - 8, py, 1.2);
      ctx.fillText(Z_TICK_LABELS[i], 1170, py + 9.5);
    });
    ctx.save();
    ctx.translate(1291, 451);
    ctx.rotate(-Math.PI / 2);
    drawRuns(ctx, [
      { t: "log", f: `58px ${SERIF}` },
      { t: "10", f: `38px ${SERIF}`, dy: 9 },
      { t: "|", f: `58px ${SERIF}` },
      { t: "Z", f: `italic 58px ${SERIF}` },
      { t: "6", f: `38px ${SERIF}`, dy: 9 },
      { t: "|", f: `58px ${SERIF}` },
    ], 0, 0, 228);
    ctx.restore();

    // title
    ctx.fillStyle = "rgb(22,56,250)";
    drawRuns(ctx, [
      { t: "m", f: `bold 53px ${SANS}` },
      { t: "H", f: `bold 39px ${SANS}`, dy: 5 },
      { t: "=125 GeV, H=H", f: `bold 53px ${SANS}` },
      { t: "SM", f: `bold 39px ${SANS}`, dy: 5 },
    ], 619, 57, 586);

    ctx.restore();
  },
};

export default function App() {
  const ref = useRef<HTMLCanvasElement>(null);
  useEffect(() => {
    const canvas = ref.current;
    if (!canvas) return;
    const pts = [...POINTS_TOP_BAND, ...POINTS_TOP_BAND_FILL, ...POINTS_MID_BAND, ...POINTS_LOW_BAND];
    const chart = new Chart(canvas, {
      type: "scatter",
      data: {
        datasets: [
          {
            data: pts.map((p) => ({ x: p[0], y: p[1] })),
            pointBackgroundColor: pts.map((p) => css(zColor(p[2]))),
            pointBorderWidth: 0,
            pointRadius: 3,
            pointHoverRadius: 3,
            clip: 0,
          } as any,
        ],
      },
      options: {
        animation: false,
        responsive: false,
        devicePixelRatio: 1,
        events: [],
        layout: { padding: { left: 188, top: 82, right: 252, bottom: 121 } },
        plugins: { legend: { display: false }, tooltip: { enabled: false }, title: { display: false } },
        scales: {
          x: { type: "linear", min: X_RANGE[0], max: X_RANGE[1], display: false },
          y: { type: "logarithmic", min: Y_RANGE[0], max: Y_RANGE[1], display: false },
          z: { type: "linear", axis: "y", min: Z_RANGE[0], max: Z_RANGE[1], display: false },
        },
      } as any,
      plugins: [fieldPlugin, decorPlugin],
    });
    return () => chart.destroy();
  }, []);
  return (
    <div style={{ position: "absolute", left: 0, top: 0, width: 1298, height: 993, background: "#fff" }}>
      <canvas ref={ref} width={1298} height={993} style={{ display: "block", width: 1298, height: 993 }} />
    </div>
  );
}
